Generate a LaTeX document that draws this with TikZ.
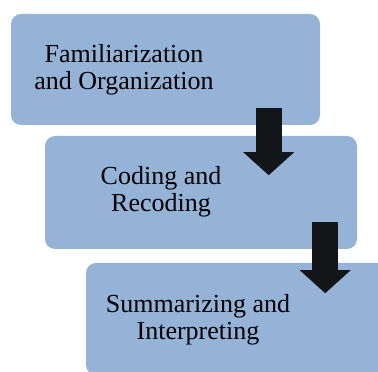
\documentclass[tikz,border=0pt]{standalone}
\usepackage{fontspec}
\setmainfont{Liberation Serif}
\usetikzlibrary{positioning, calc, arrows.meta}

\definecolor{boxblue}{HTML}{95B3D7}
\definecolor{arrowdark}{HTML}{131619}

\begin{document}
\begin{tikzpicture}[x=1pt, y=1pt]
	\tikzset{
		stage/.style={rectangle, fill=boxblue, rounded corners=10pt, inner sep=0pt},
		stagetext/.style={align=center, font=\fontsize{26}{26.5}\selectfont},
		downarrow/.style={line width=26pt, draw=arrowdark, -{Triangle[width=51pt, length=23pt, line width=0pt]}}
	}
	\useasboundingbox (0,0) rectangle (378,372);
	\clip (0,0) rectangle (378,372);

	% Draw the stages.
	\node at (165.5,302.5) [stage, minimum width=309pt, minimum height=111pt] (fam) {};
	\node at (201,179.5) [stage, minimum width=312pt, minimum height=113pt] (cod) {};
	\node at (241,53) [stage, minimum width=310pt, minimum height=112pt] (sum) {};

	% Texts sit left of the box centres
	\node[stagetext] at ([xshift=-41.5pt, yshift=-0.5pt]fam.center) (famtext) {Familiarization\\and Organization};
	\node[stagetext] at ([xshift=-40pt, yshift=0.5pt]cod.center) (codtext) {Coding and\\Recoding};
	\node[stagetext] at ([xshift=-43pt, yshift=-1pt]sum.center) (sumtext) {Summarizing and\\Interpreting};

	% Arrows between the stages
	\coordinate (a1) at ([xshift=-51.5pt, yshift=17pt]fam.south east);
	\coordinate (a2) at ([xshift=-32pt, yshift=27pt]cod.south east);
	\draw[downarrow] (a1) -- ++(0,-67);
	\draw[downarrow] (a2) -- ++(0,-71);
\end{tikzpicture}
\end{document}
